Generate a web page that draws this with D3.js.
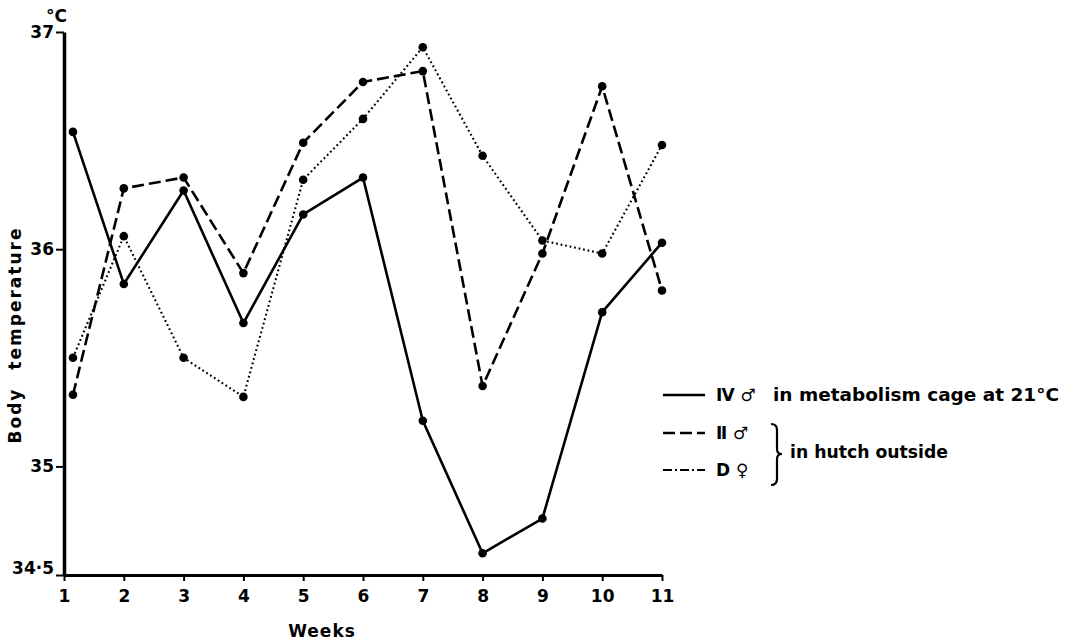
<!DOCTYPE html>
<html>
<head>
<meta charset="utf-8">
<script src="https://cdn.jsdelivr.net/npm/d3@7"></script>
<style>
  body { margin: 0; background: #fff; }
  svg { display: block; }
  text { font-family: "DejaVu Sans", sans-serif; font-weight: bold; fill: #000; }
</style>
</head>
<body>
<div id="chart"></div>
<script>
// weeks as plotted (week 1 points sit a little right of the tick)
const weeks = [1.15, 2, 3, 4, 5, 6, 7, 8, 9, 10, 11];
const weekTicks = [1, 2, 3, 4, 5, 6, 7, 8, 9, 10, 11];
const tempTicks = [34.5, 35, 36, 37];

// IV male, metabolism cage at 21 °C
const tempIV = [36.54, 35.84, 36.27, 35.66, 36.16, 36.33, 35.21, 34.60, 34.76, 35.71, 36.03];
// II male, hutch outside
const tempII = [35.33, 36.28, 36.33, 35.89, 36.49, 36.77, 36.82, 35.37, 35.98, 36.75, 35.81];
// D female, hutch outside
const tempD = [35.50, 36.06, 35.50, 35.32, 36.32, 36.60, 36.93, 36.43, 36.04, 35.98, 36.48];

const series = [
  { name: "IV", values: tempIV, dash: null, width: 2.6 },
  { name: "II", values: tempII, dash: "12,5", width: 2.6 },
  { name: "D", values: tempD, dash: "1.8,2.8", width: 2.1 }
];

const W = 1065, H = 644;

const svg = d3.select("#chart")
  .append("svg")
  .attr("width", W)
  .attr("height", H);

const x = d3.scaleLinear().domain([1, 11]).range([64, 662]);
const y = d3.scaleLinear().domain([34.5, 37]).range([575, 32]);

// axes
const yAxis = svg.append("g")
  .attr("transform", `translate(${x(1)},0)`)
  .call(d3.axisLeft(y)
    .tickValues(tempTicks)
    .tickSize(8)
    .tickSizeOuter(0)
    .tickPadding(2)
    .tickFormat(d => d === 34.5 ? "34·5" : d3.format("d")(d)));
yAxis.select(".domain").attr("stroke-width", 3.5);
yAxis.selectAll(".tick line").attr("stroke-width", 2);
yAxis.selectAll(".tick text").attr("font-size", 17).attr("font-family", null);
yAxis.selectAll(".tick")
  .filter(d => d === 34.5)
  .select("text").attr("dy", "-0.1em");

const xAxis = svg.append("g")
  .attr("transform", `translate(0,${y(34.5)})`)
  .call(d3.axisBottom(x)
    .tickValues(weekTicks)
    .tickSize(6)
    .tickSizeOuter(0)
    .tickPadding(9));
xAxis.select(".domain").attr("stroke-width", 3);
xAxis.selectAll(".tick line").attr("stroke-width", 2);
xAxis.selectAll(".tick text").attr("font-size", 17).attr("font-family", null);

svg.append("text")
  .attr("x", 46)
  .attr("y", 22)
  .attr("font-size", 17)
  .text("°C");

svg.append("text")
  .attr("transform", "translate(21,335) rotate(-90)")
  .attr("text-anchor", "middle")
  .attr("font-size", 17)
  .attr("letter-spacing", 2)
  .attr("word-spacing", 10)
  .text("Body temperature");

svg.append("text")
  .attr("x", 322)
  .attr("y", 637)
  .attr("text-anchor", "middle")
  .attr("font-size", 17)
  .attr("letter-spacing", 1)
  .text("Weeks");

// lines and points
const line = d3.line()
  .x((d, i) => x(weeks[i]))
  .y(d => y(d));

series.forEach(s => {
  svg.append("path")
    .datum(s.values)
    .attr("fill", "none")
    .attr("stroke", "#000")
    .attr("stroke-width", s.width)
    .attr("stroke-dasharray", s.dash)
    .attr("stroke-linejoin", "round")
    .attr("d", line);

  svg.append("g")
    .selectAll("circle")
    .data(s.values)
    .enter()
    .append("circle")
    .attr("cx", (d, i) => x(weeks[i]))
    .attr("cy", d => y(d))
    .attr("r", 4.3)
    .attr("fill", "#000");
});

// legend
const legendRows = [
  { s: series[0], label: "Ⅳ ♂", y: 395 },
  { s: series[1], label: "Ⅱ ♂", y: 433 },
  { s: { dash: "9,3,2,3", width: 1.8 }, label: "D ♀", y: 470 }
];

const legend = svg.append("g");
legendRows.forEach(r => {
  legend.append("line")
    .attr("x1", 663).attr("x2", 705)
    .attr("y1", r.y).attr("y2", r.y)
    .attr("stroke", "#000")
    .attr("stroke-width", r.s.width)
    .attr("stroke-dasharray", r.s.dash);
  legend.append("text")
    .attr("x", 716)
    .attr("y", r.y + 6)
    .attr("font-size", 17)
    .text(r.label);
});

legend.append("text")
  .attr("x", 773)
  .attr("y", 401)
  .attr("font-size", 17)
  .attr("textLength", 286)
  .attr("lengthAdjust", "spacingAndGlyphs")
  .text("in metabolism cage at 21°C");

legend.append("path")
  .attr("d", "M771,424 Q777,424 777,430 L777,449 Q777,454 782,454 Q777,454 777,459 L777,479 Q777,485 771,485")
  .attr("fill", "none")
  .attr("stroke", "#000")
  .attr("stroke-width", 2.2);

legend.append("text")
  .attr("x", 790)
  .attr("y", 458)
  .attr("font-size", 17)
  .attr("textLength", 158)
  .attr("lengthAdjust", "spacingAndGlyphs")
  .text("in hutch outside");
</script>
</body>
</html>
